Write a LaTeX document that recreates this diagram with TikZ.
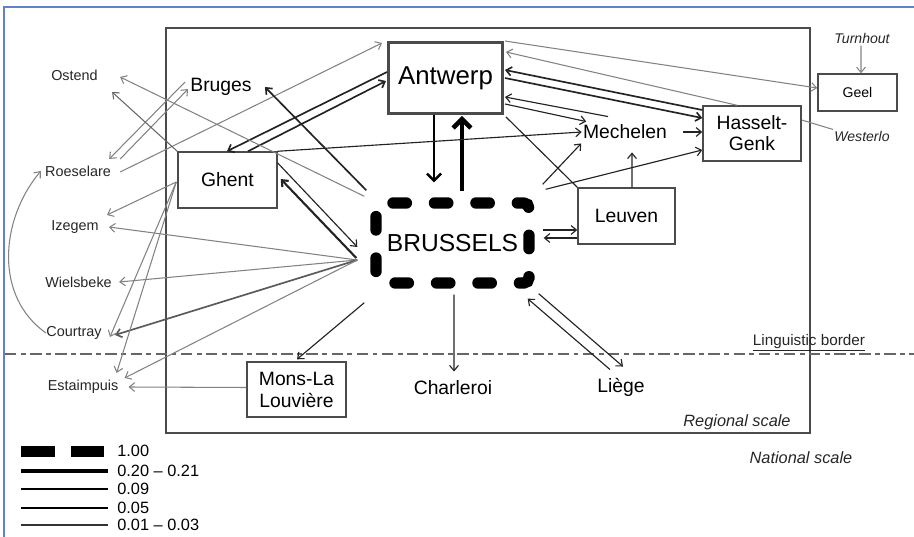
\documentclass[tikz,border=0pt]{standalone}
\usepackage{fontspec}
\setmainfont{Liberation Sans}
\usetikzlibrary{arrows.meta, positioning}
\definecolor{frameblue}{RGB}{95, 130, 200}
\definecolor{linkgray}{RGB}{130, 130, 130}
\definecolor{linkdark}{RGB}{35, 35, 35}
\definecolor{boxgray}{RGB}{75, 75, 75}

\begin{document}
\begin{tikzpicture}[x=0.02cm, y=-0.02cm,
  >={Straight Barb[length=3pt, width=5pt]},
  citybox/.style={draw=boxgray, line width=0.85pt, inner sep=0pt, align=center, font=\fontsize{11}{12}\selectfont},
  cityname/.style={inner sep=0pt, font=\fontsize{11}{12}\selectfont},
  commune/.style={inner sep=0pt, font=\fontsize{8.2}{10}\selectfont, text=black!85},
  outside/.style={inner sep=0pt, font=\fontsize{8}{10}\selectfont\itshape, text=black!85},
  scalelabel/.style={inner sep=0pt, font=\fontsize{9.3}{11}\selectfont\itshape, text=black!85},
  legendtext/.style={inner sep=0pt, anchor=west, font=\fontsize{9.3}{11}\selectfont},
  lgray/.style={->, draw=linkgray, line width=0.6pt},
  lthin/.style={->, draw=linkdark, line width=0.65pt},
  lmed/.style={->, draw=linkdark, line width=0.95pt},
  lbold/.style={-{Straight Barb[length=4pt, width=8pt]}, draw=black, line width=1.4pt},
  lheavy/.style={-{Straight Barb[length=5pt, width=10pt]}, draw=black, line width=2.6pt}
]
  \useasboundingbox (0,0) rectangle (914,537);
  \draw[frameblue, line width=0.8pt] (4,537) -- (4,7) -- (914,7);
  \draw[boxgray, line width=0.85pt] (166,28) rectangle (810,433);
  \draw[black!60, line width=0.85pt, dash pattern=on 6.5pt off 2.5pt on 2.8pt off 2.5pt] (5,354) -- (914,354);

  \node[citybox, line width=1.7pt, minimum width=2.28cm, minimum height=1.42cm, font=\fontsize{14.7}{16}\selectfont] (antwerp) at (445.5,78) {Antwerp};
  \node[draw=black, line width=6.5pt, line cap=round, dash pattern=on 7.6pt off 16pt, dash phase=4pt, rounded corners=3pt, minimum width=3.06cm, minimum height=1.6cm, font=\fontsize{14}{16}\selectfont] (brussels) at (452.5,243) {BRUSSELS};
  \node[citybox, minimum width=1.98cm, minimum height=1.12cm] (ghent) at (227.5,180) {Ghent};
  \node[cityname] (bruges) at (221,87) {Bruges};
  \node[cityname] (mechelen) at (625,132) {Mechelen};
  \node[citybox, minimum width=1.96cm, minimum height=1.1cm] (hasselt) at (752,133.5) {Hasselt-\\Genk};
  \node[citybox, minimum width=1.94cm, minimum height=1.12cm] (leuven) at (626.5,216) {Leuven};
  \node[citybox, minimum width=1.58cm, minimum height=0.74cm, font=\fontsize{8}{10}\selectfont] (geel) at (857.5,92.5) {Geel};
  \node[outside] (turnhout) at (862,38) {Turnhout};
  \node[outside] (westerlo) at (862,136) {Westerlo};
  \node[citybox, minimum width=1.98cm, minimum height=1.1cm, font=\fontsize{11}{12.5}\selectfont] (mons) at (296.5,389.5) {Mons-La\\Louvière};
  \node[cityname] (charleroi) at (453,388) {Charleroi};
  \node[cityname] (liege) at (621,387) {Liège};

  \node[commune] (ostend) at (74.5,75) {Ostend};
  \node[commune] (roeselare) at (78,171) {Roeselare};
  \node[commune] (izegem) at (75,227) {Izegem};
  \node[commune] (wielsbeke) at (78.5,282) {Wielsbeke};
  \node[commune] (courtray) at (74,333) {Courtray};
  \node[commune] (estaimpuis) at (83,387) {Estaimpuis};

  \node[inner sep=0pt, font=\fontsize{8.7}{10}\selectfont, text=black!85] (linguistic) at (809,343) {\underline{Linguistic border}};
  \node[scalelabel] (regional) at (737,422) {Regional scale};
  \node[scalelabel] (national) at (801,458) {National scale};

  \draw[lbold] ([shift={(-11.5,0)}]antwerp.south) -- ([shift={(-18.5,-15)}]brussels.north);
  \draw[lheavy] ([shift={(9.5,-6)}]brussels.north) -- ([shift={(16.5,1)}]antwerp.south);
  \draw[lmed] ([shift={(0,-6)}]antwerp.west) -- ([shift={(-0.5,0)}]ghent.north);
  \draw[lmed] ([shift={(20.5,0)}]ghent.north) -- ([shift={(-1,3)}]antwerp.west);
  \draw[lgray] ([shift={(9,1)}]roeselare.east) -- ([shift={(-5,-35)}]antwerp.west);
  \draw[lgray] ([shift={(-5,-5)}]bruges.west) -- ([shift={(-2,-12)}]roeselare.east);
  \draw[lgray] ([shift={(9,-12)}]roeselare.east) -- ([shift={(-2,2)}]bruges.west);
  \draw[lgray, draw=black!60] (ghent.north west) -- ([shift={(14,17)}]ostend.east);
  \draw[lgray] ([shift={(-6,-1)}]brussels.north west) -- ([shift={(22,2)}]ostend.east);
  \draw[lmed] ([shift={(-4,-7)}]brussels.north west) -- ([shift={(13,0)}]bruges.east);
  \draw[lthin] ([shift={(0,-17)}]ghent.east) -- ([shift={(-13,4)}]brussels.west);
  \draw[lmed, line width=1.2pt] ([shift={(-14,15)}]brussels.west) -- ([shift={(3,-1)}]ghent.east);

  \draw[lgray] ([shift={(-13,17)}]brussels.west) -- ([shift={(10,0)}]izegem.east);
  \draw[lgray] ([shift={(-13,17)}]brussels.west) -- ([shift={(7,0)}]wielsbeke.east);
  \draw[lmed, draw=black!65] ([shift={(-13,17)}]brussels.west) -- ([shift={(13,2)}]courtray.east);
  \draw[lgray] ([shift={(-13,17)}]brussels.west) -- ([shift={(6,-9)}]estaimpuis.east);
  \draw[lgray] ([shift={(-1,2)}]ghent.west) -- ([shift={(8,-12)}]izegem.east);
  \draw[lgray] ([shift={(-1,2)}]ghent.west) -- ([shift={(8,4)}]courtray.east);
  \draw[lgray] ([shift={(-1,2)}]ghent.west) -- ([shift={(-2,-14)}]estaimpuis.east);
  \draw[lgray] (courtray.west) to[out=145, in=-130] ([shift={(-4,0)}]roeselare.west);
  \draw[lgray] ([shift={(0,-2)}]mons.west) -- ([shift={(10,0)}]estaimpuis.east);

  \draw[lthin] ([shift={(-6,14)}]brussels.south west) -- ([shift={(0.5,-2)}]mons.north);
  \draw[lthin] ([shift={(1.5,6)}]brussels.south) -- ([shift={(1,-9)}]charleroi.north);
  \draw[lthin] ([shift={(-11,-8)}]liege.north) -- ([shift={(-7,10)}]brussels.south east);
  \draw[lthin] ([shift={(4,5)}]brussels.south east) -- ([shift={(2,-11)}]liege.north);
  \draw[lthin] ([shift={(8,-13)}]brussels.east) -- ([shift={(0,14)}]leuven.west);
  \draw[lthin] ([shift={(0,22)}]leuven.west) -- ([shift={(9,-5)}]brussels.east);
  \draw[lthin] ([shift={(8,-13)}]brussels.north east) -- ([shift={(-1.5,4)}]mechelen.south west);
  \draw[lthin] ([shift={(11,-8)}]brussels.north east) -- ([shift={(0,16.5)}]hasselt.west);
  \draw[lthin] ([shift={(5.5,0)}]leuven.north) -- ([shift={(7,13)}]mechelen.south);
  \draw[lthin] ([shift={(16,0)}]mechelen.east) -- ([shift={(0,-1.5)}]hasselt.west);
  \draw[lthin] (ghent.north east) -- ([shift={(-1,0)}]mechelen.west);
  \draw[lthin, -] ([shift={(2,2)}]antwerp.south east) -- (leuven.north west);
  \draw[lthin] ([shift={(-17,-8)}]mechelen.north) -- ([shift={(1,19)}]antwerp.east);
  \draw[lthin] ([shift={(1,26)}]antwerp.east) -- ([shift={(3.5,-3)}]mechelen.north west);
  \draw[lmed] ([shift={(0,-23.5)}]hasselt.west) -- ([shift={(1,-8)}]antwerp.east);
  \draw[lmed] ([shift={(1,0)}]antwerp.east) -- ([shift={(0,-15.5)}]hasselt.west);
  \draw[lgray] ([shift={(-15,0)}]hasselt.north) -- ([shift={(2,-26)}]antwerp.east);
  \draw[lgray] ([shift={(1,0)}]antwerp.north east) -- ([shift={(0,-4.5)}]geel.west);
  \draw[lgray, -] ([shift={(0,-13.5)}]hasselt.east) -- ([shift={(-1,-1)}]westerlo.north west);
  \draw[lgray] ([shift={(-1,2)}]turnhout.south) -- ([shift={(3.5,0)}]geel.north);

  \fill (21,446) rectangle (55,457);
  \fill (71,446) rectangle (104,457);
  \node[legendtext] (leg1) at (117,451) {1.00};
  \node[legendtext] (leg2) at (117,471) {0.20 -- 0.21};
  \node[legendtext] (leg3) at (117,489) {0.09};
  \node[legendtext] (leg4) at (117,508) {0.05};
  \node[legendtext] (leg5) at (117,525) {0.01 -- 0.03};
  \draw[line width=2.2pt] (21,471) -- ([shift={(-9,0)}]leg2.west);
  \draw[line width=1.7pt] (21,489) -- ([shift={(-9,0)}]leg3.west);
  \draw[line width=1.1pt] (21,508) -- ([shift={(-9,0)}]leg4.west);
  \draw[line width=0.6pt, black!80] (21,525) -- ([shift={(-9,0)}]leg5.west);
\end{tikzpicture}
\end{document}
